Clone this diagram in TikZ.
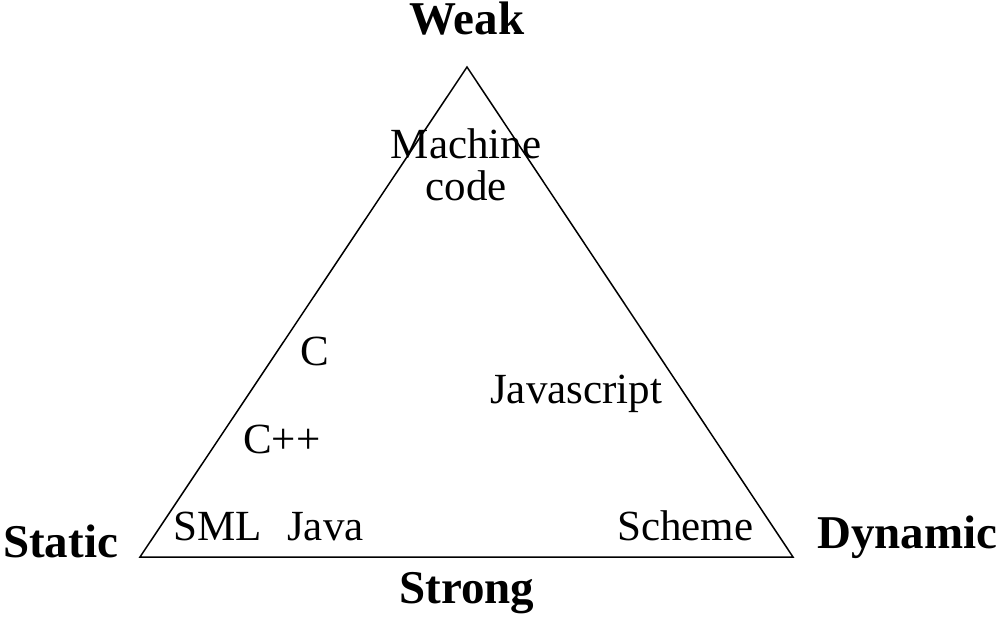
\documentclass[tikz,border=0pt]{standalone}
\usepackage{fontspec}
\setmainfont{Liberation Serif}
\begin{document}
\begin{tikzpicture}[x=1pt,y=-1pt,
  lang/.style={inner sep=0pt,font=\fontsize{43}{43}\selectfont},
  pole/.style={inner sep=0pt,font=\fontsize{47}{47}\selectfont\bfseries},
  edge/.style={line width=1.5pt,black}]
\useasboundingbox (0,0) rectangle (1007,618);
\coordinate (T) at (467,67);
\coordinate (L) at (140,557);
\coordinate (R) at (793,557);
\draw[edge,line join=miter] (T) -- (L) -- (R) -- cycle;
\node[pole,anchor=base] (weak) at (467,35) {Weak};
\node[pole,anchor=base west] (static) at (3,557) {Static};
\node[pole,anchor=base west] (dynamic) at (817,548) {Dynamic};
\node[pole,anchor=base] (strong) at (467,603) {Strong};
\node[lang,anchor=base] (machine) at (466,158) {Machine};
\node[lang,anchor=base] (code) at (466,200) {code};
\node[lang,anchor=base west] (c) at (300,365) {C};
\node[lang,anchor=base west] (cpp) at (243,453) {C++};
\node[lang,anchor=base west] (js) at (490,403) {Javascript};
\node[lang,anchor=base west] (sml) at (173,540) {SML};
\node[lang,anchor=base west] (java) at (287,540) {Java};
\node[lang,anchor=base west] (scheme) at (617,540) {Scheme};
\end{tikzpicture}
\end{document}
